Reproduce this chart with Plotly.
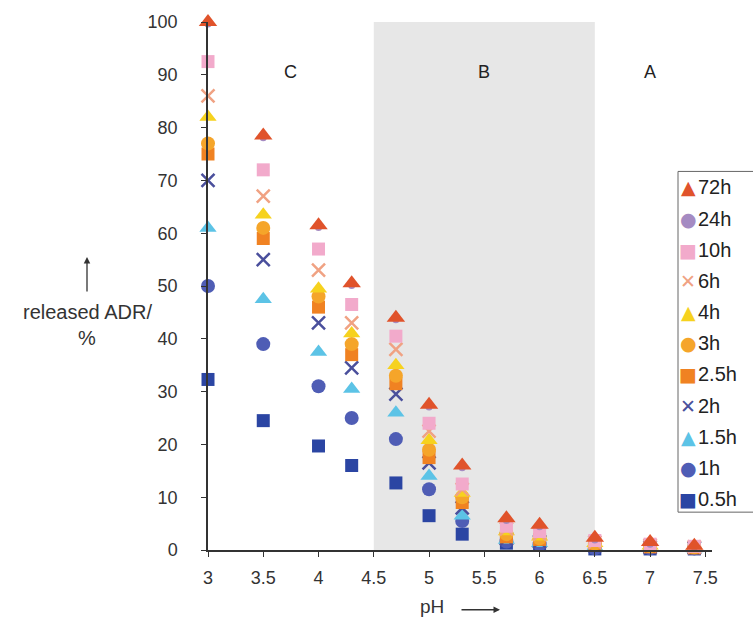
import plotly.graph_objects as go

ph = [3, 3.5, 4, 4.3, 4.7, 5, 5.3, 5.7, 6, 6.5, 7, 7.4]

series_names = ["0.5h", "1h", "1.5h", "2h", "2.5h", "3h", "4h", "6h", "10h", "24h", "72h"]
v_05h = [32.3, 24.5, 19.7, 16.0, 12.7, 6.5, 3.0, 1.3, 0.9, 0.2, 0.2, 0.2]
v_1h = [50.0, 39.0, 31.0, 25.0, 21.0, 11.5, 5.5, 1.6, 1.1, 0.3, 0.3, 0.3]
v_15h = [61.0, 47.5, 37.5, 30.5, 26.0, 14.0, 6.5, 1.9, 1.3, 0.6, 0.4, 0.3]
v_2h = [70.0, 55.0, 43.0, 34.5, 29.5, 16.5, 8.0, 2.1, 1.6, 0.8, 0.5, 0.4]
v_25h = [75.0, 59.0, 46.0, 37.0, 31.5, 17.5, 9.0, 2.5, 2.0, 1.0, 0.6, 0.4]
v_3h = [77.0, 61.0, 48.0, 39.0, 33.0, 19.0, 10.0, 3.0, 2.2, 1.2, 0.7, 0.5]
v_4h = [82.0, 63.5, 49.5, 41.0, 35.0, 20.8, 10.8, 3.5, 2.5, 1.3, 0.8, 0.5]
v_6h = [86.0, 67.0, 53.0, 43.0, 38.0, 22.5, 11.5, 4.0, 3.0, 1.5, 0.9, 0.6]
v_10h = [92.5, 72.0, 57.0, 46.5, 40.5, 24.0, 12.5, 4.5, 3.5, 1.8, 1.1, 0.7]
v_24h = [99.6, 78.1, 61.1, 50.1, 43.6, 27.1, 15.6, 5.6, 4.4, 1.9, 1.1, 0.5]
v_72h = [100.0, 78.5, 61.5, 50.5, 44.0, 27.5, 16.0, 6.0, 4.8, 2.3, 1.5, 0.8]

values = [v_05h, v_1h, v_15h, v_2h, v_25h, v_3h, v_4h, v_6h, v_10h, v_24h, v_72h]
symbols = ["square", "circle", "triangle-up", "x-thin", "square", "circle",
           "triangle-up", "x-thin", "square", "circle", "triangle-up"]
legend_glyphs = ["\u25A0", "\u25CF", "\u25B2", "\u2715", "\u25A0", "\u25CF",
                 "\u25B2", "\u2715", "\u25A0", "\u25CF", "\u25B2"]
colors = ["#2B45A3", "#4F5DB5", "#5CC3E6", "#4A4F9C", "#F08222", "#F5A52A",
          "#F6D21E", "#F0A283", "#F2AACB", "#A58BC2", "#E0532B"]
sizes = [13, 14, 15, 13, 13, 14, 15, 13, 13, 7, 16]

region_x0 = 4.5
region_x1 = 6.5
region_labels = ["C", "B", "A"]
region_label_x = [3.75, 5.5, 7.0]

# plot area geometry (pixels) for paper-coordinate helpers
L, R, T, B = 208, 41, 20, 80
W, H = 753, 630
PW, PH = W - L - R, H - T - B


def px(x):
    return (x - L) / PW


def py(y):
    return (H - B - y) / PH


fig = go.Figure()
for i, (name, vals) in enumerate(zip(series_names, values)):
    sym = symbols[i]
    marker = dict(symbol=sym, size=sizes[i], color=colors[i])
    if sym == "x-thin":
        marker["line"] = dict(color=colors[i], width=2.5)
    else:
        marker["line"] = dict(width=0)
    fig.add_trace(go.Scatter(x=ph, y=vals, mode="markers", name=name,
                             marker=marker, cliponaxis=False, showlegend=False))

fig.add_shape(type="rect", xref="x", yref="y", x0=region_x0, x1=region_x1,
              y0=0, y1=100, fillcolor="#E7E7E7", line=dict(width=0), layer="below")

for lab, lx in zip(region_labels, region_label_x):
    fig.add_annotation(x=lx, y=90.5, xref="x", yref="y", text=lab, showarrow=False,
                       font=dict(size=18, color="#222"))

# manual legend (partly outside the figure, as in the original)
fig.add_shape(type="rect", xref="paper", yref="paper", x0=px(678), x1=px(770),
              y0=py(512), y1=py(170), line=dict(color="#666", width=1),
              fillcolor="white", layer="above")
for k, idx in enumerate(range(len(series_names) - 1, -1, -1)):
    yy = 186 + k * 31.3
    g = legend_glyphs[idx]
    fig.add_annotation(xref="paper", yref="paper", x=px(688), y=py(yy),
                       text=g, showarrow=False, xanchor="center",
                       yanchor="middle",
                       font=dict(size=19, color=colors[idx], family="DejaVu Sans"))
    fig.add_annotation(xref="paper", yref="paper", x=px(696), y=py(yy),
                       text=series_names[idx], showarrow=False, xanchor="left",
                       yanchor="middle", font=dict(size=20, color="#222"))

# axis titles as annotations
fig.add_annotation(xref="paper", yref="paper", x=px(87), y=py(311), text="released ADR/",
                   showarrow=False, xanchor="center", yanchor="middle",
                   font=dict(size=20, color="#333"))
fig.add_annotation(xref="paper", yref="paper", x=px(87), y=py(337), text="%",
                   showarrow=False, xanchor="center", yanchor="middle",
                   font=dict(size=20, color="#333"))
fig.add_annotation(xref="paper", yref="paper", x=px(87), y=py(256), ax=0, ay=36,
                   text="", showarrow=True, arrowhead=2, arrowsize=1, arrowwidth=1.3,
                   arrowcolor="#333")
fig.add_annotation(xref="paper", yref="paper", x=px(432), y=py(607), text="pH",
                   showarrow=False, xanchor="center", yanchor="middle",
                   font=dict(size=19, color="#333"))
fig.add_annotation(xref="paper", yref="paper", x=px(500), y=py(610), ax=-40, ay=0,
                   text="", showarrow=True, arrowhead=2, arrowsize=1, arrowwidth=1.3,
                   arrowcolor="#333")

fig.update_layout(
    width=W, height=H,
    margin=dict(l=L, r=R, t=T, b=B),
    paper_bgcolor="white", plot_bgcolor="white",
    font=dict(family="Liberation Sans, Arial, sans-serif", size=18, color="#333"),
    showlegend=False,
)
fig.update_xaxes(range=[3, 7.56], tickvals=[3, 3.5, 4, 4.5, 5, 5.5, 6, 6.5, 7, 7.5],
                 ticktext=["3", "3.5", "4", "4.5", "5", "5.5", "6", "6.5", "7", "7.5"],
                 showline=True, linecolor="#333", linewidth=1.5, ticks="outside",
                 ticklen=5, tickcolor="#333", showgrid=False, zeroline=False,
                 tickfont=dict(size=18), ticklabelstandoff=6)
fig.update_yaxes(range=[0, 100], tickvals=list(range(0, 101, 10)),
                 showline=True, linecolor="#333", linewidth=1.5, ticks="outside",
                 ticklen=5, tickcolor="#333", showgrid=False, zeroline=False,
                 tickfont=dict(size=18), ticklabelstandoff=20)

fig.write_html("out.html")
